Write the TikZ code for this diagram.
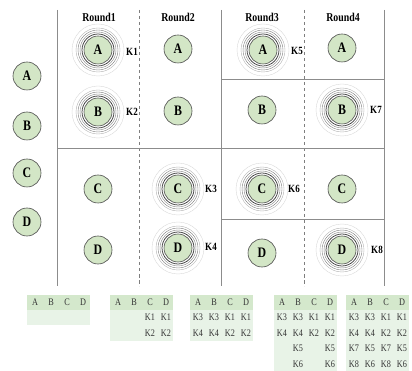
\documentclass[tikz,border=0pt]{standalone}
\usepackage{fontspec}
\setmainfont{Liberation Serif}[FakeStretch=0.82]
\definecolor{ballgreen}{HTML}{D3E6C6}
\definecolor{thead}{HTML}{D4E8CC}
\definecolor{tbody}{HTML}{E8F3E7}
\definecolor{gridgray}{HTML}{8C8C8C}
\tikzset{
  gridline/.style={draw=gridgray, line width=0.9pt},
  dgridline/.style={draw=gridgray!90!black, line width=0.7pt, dash pattern=on 3.5pt off 2.5pt},
  ball/.style={circle, draw=black!70, fill=ballgreen, line width=0.6pt, minimum size=28pt, inner sep=0pt, font=\fontsize{14.5}{14.5}\selectfont\bfseries},
  roundlbl/.style={font=\fontsize{12}{12}\selectfont\bfseries, inner sep=0pt},
  klbl/.style={font=\fontsize{11}{11}\selectfont\bfseries, inner sep=0pt},
  cell/.style={font=\fontsize{10}{10}\selectfont, text=black!80, inner sep=0pt},
  ringA/.style={draw=black!75, line width=0.75pt},
  ringB/.style={draw=black!50, line width=0.4pt},
  ringD/.style={draw=black!30, line width=0.4pt},
  ringC/.style={draw=black!15, line width=0.4pt},
}
\newcommand\ringset[1]{%
  \draw[ringA] (#1) circle (16pt);
  \draw[ringB] (#1) circle (18pt);
  \draw[ringB] (#1) circle (20pt);
  \draw[ringD] (#1) circle (22pt);
  \draw[ringC] (#1) circle (26pt);
}
\newcommand\tabframe[3]{% name, x0, nrows
  \fill[thead] (#2,295) rectangle ++(63,14.5);
  \fill[tbody] (#2,309.5) rectangle ++(63,#3*15.5);
  \node[cell] (#1h1) at (#2+8,302.5) {A};
  \node[cell] (#1h2) at (#2+24,302.5) {B};
  \node[cell] (#1h3) at (#2+40,302.5) {C};
  \node[cell] (#1h4) at (#2+56,302.5) {D};
}
\newcommand\tabrow[7]{% name, x0, row, a, b, c, d
  \node[cell] (#1r#3c1) at (#2+8,302+#3*15.5) {#4};
  \node[cell] (#1r#3c2) at (#2+24,302+#3*15.5) {#5};
  \node[cell] (#1r#3c3) at (#2+40,302+#3*15.5) {#6};
  \node[cell] (#1r#3c4) at (#2+56,302+#3*15.5) {#7};
}
\begin{document}
\begin{tikzpicture}[x=1pt,y=-1pt]
\useasboundingbox (0,0) rectangle (412,371);
% grid
\coordinate (v1t) at (57,10);  \coordinate (v1b) at (57,286);
\coordinate (v2t) at (139,10); \coordinate (v2b) at (139,286);
\coordinate (v3t) at (221,10); \coordinate (v3b) at (221,286);
\coordinate (v4t) at (304,10); \coordinate (v4b) at (304,286);
\coordinate (v5t) at (384,10); \coordinate (v5b) at (384,286);
\coordinate (h1l) at (57,148); \coordinate (h1r) at (384,148);
\coordinate (h2l) at (221,79); \coordinate (h2r) at (384,79);
\coordinate (h3l) at (221,219); \coordinate (h3r) at (384,219);
\draw[gridline] (v1t) -- (v1b);
\draw[gridline] (v3t) -- (v3b);
\draw[gridline] (v5t) -- (v5b);
\draw[dgridline] (v2t) -- (v2b);
\draw[dgridline] (v4t) -- (v4b);
\draw[gridline] (h1l) -- (h1r);
\draw[gridline] (h2l) -- (h2r);
\draw[gridline] (h3l) -- (h3r);
% round labels
\node[roundlbl] (rd1) at (99,17) {Round1};
\node[roundlbl] (rd2) at (178,17) {Round2};
\node[roundlbl] (rd3) at (262,17) {Round3};
\node[roundlbl] (rd4) at (343,17) {Round4};
% left column
\node[ball] (la) at (27,76) {A};
\node[ball] (lb) at (27,126) {B};
\node[ball] (lc) at (27,173) {C};
\node[ball] (ld) at (27,222) {D};
% round 1
\node[ball] (r1a) at (98,50) {A};
\node[ball] (r1b) at (98,112) {B};
\node[ball] (r1c) at (98,189) {C};
\node[ball] (r1d) at (98,250) {D};
% round 2
\node[ball] (r2a) at (178,49) {A};
\node[ball] (r2b) at (178,111) {B};
\node[ball] (r2c) at (178,189) {C};
\node[ball] (r2d) at (178,248) {D};
% round 3
\node[ball] (r3a) at (263,50) {A};
\node[ball] (r3b) at (262,110) {B};
\node[ball] (r3c) at (262,189) {C};
\node[ball] (r3d) at (262,253) {D};
% round 4
\node[ball] (r4a) at (342,48) {A};
\node[ball] (r4b) at (342,110) {B};
\node[ball] (r4c) at (342,189) {C};
\node[ball] (r4d) at (342,250) {D};
% rings
\ringset{r1a}\ringset{r1b}\ringset{r2c}\ringset{r2d}
\ringset{r3a}\ringset{r3c}\ringset{r4b}\ringset{r4d}
% K labels
\node[klbl] (k1) at (132,52) {K1};
\node[klbl] (k2) at (132,112) {K2};
\node[klbl] (k3) at (211,189) {K3};
\node[klbl] (k4) at (211,247) {K4};
\node[klbl] (k5) at (297,51) {K5};
\node[klbl] (k6) at (294,189) {K6};
\node[klbl] (k7) at (376,110) {K7};
\node[klbl] (k8) at (377,250) {K8};
% tables
\tabframe{ta}{27}{1}
\tabframe{tb}{110}{2}
\tabrow{tb}{110}{1}{}{}{K1}{K1}
\tabrow{tb}{110}{2}{}{}{K2}{K2}
\tabframe{tc}{190}{2}
\tabrow{tc}{190}{1}{K3}{K3}{K1}{K1}
\tabrow{tc}{190}{2}{K4}{K4}{K2}{K2}
\tabframe{td}{274}{4}
\tabrow{td}{274}{1}{K3}{K3}{K1}{K1}
\tabrow{td}{274}{2}{K4}{K4}{K2}{K2}
\tabrow{td}{274}{3}{}{K5}{}{K5}
\tabrow{td}{274}{4}{}{K6}{}{K6}
\tabframe{te}{346}{4}
\tabrow{te}{346}{1}{K3}{K3}{K1}{K1}
\tabrow{te}{346}{2}{K4}{K4}{K2}{K2}
\tabrow{te}{346}{3}{K7}{K5}{K7}{K5}
\tabrow{te}{346}{4}{K8}{K6}{K8}{K6}
\end{tikzpicture}
\end{document}
